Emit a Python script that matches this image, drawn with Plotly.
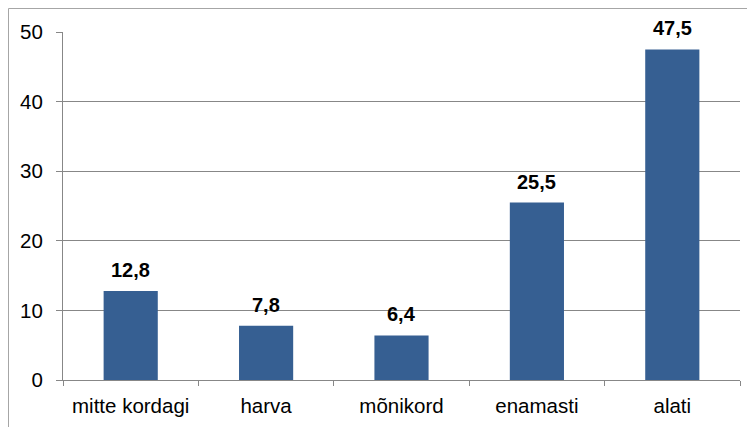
import plotly.graph_objects as go

categories = ["mitte kordagi", "harva", "mõnikord", "enamasti", "alati"]
values = [12.8, 7.8, 6.4, 25.5, 47.5]
y_ticks = [0, 10, 20, 30, 40, 50]

bar_color = "#365f92"
grid_color = "#878787"

fig = go.Figure()
fig.add_trace(go.Bar(
    x=categories, y=values, marker=dict(color=bar_color, line=dict(width=0)),
    width=0.4, showlegend=False, hoverinfo="x+y"
))

for c, v in zip(categories, values):
    fig.add_annotation(
        x=c, y=v, xref="x", yref="y", text=f"<b>{v:.1f}</b>".replace(".", ","),
        showarrow=False, yanchor="bottom", yshift=8,
        font=dict(family="Liberation Sans, Arial", size=20, color="black")
    )

# page has an 8px body margin, so the figure is offset by (8, 8)
L, R, T, B = 55, 23, 24, 55
plot_w = 755 - L - R
plot_h = 427 - T - B

fig.update_layout(
    width=755, height=427,
    margin=dict(l=L, r=R, t=T, b=B, autoexpand=False),
    plot_bgcolor="white", paper_bgcolor="white",
    separators=", ",
    font=dict(family="Liberation Sans, Arial", size=20, color="black"),
    bargap=0.6,
    xaxis=dict(
        showgrid=False, showline=True, linecolor=grid_color, linewidth=1,
        ticks="outside", tickson="boundaries", ticklen=5, tickcolor=grid_color,
        ticklabelstandoff=7, tickfont=dict(size=20.5), automargin=False,
    ),
    yaxis=dict(
        range=[0, 50], tickvals=y_ticks, showgrid=True, gridcolor=grid_color,
        gridwidth=1, showline=True, linecolor=grid_color, linewidth=1,
        ticks="outside", ticklen=6, tickcolor=grid_color, zeroline=False,
        ticklabelstandoff=9, tickfont=dict(size=20.5), automargin=False,
    ),
    shapes=[dict(
        type="rect", xref="paper", yref="paper",
        x0=(0.5 - L) / plot_w, x1=1.2, y0=-0.3, y1=(plot_h + T - 0.5) / plot_h,
        line=dict(color="#a6a6a6", width=1), fillcolor="rgba(0,0,0,0)", layer="below"
    )],
)

fig.write_html("out.html")
